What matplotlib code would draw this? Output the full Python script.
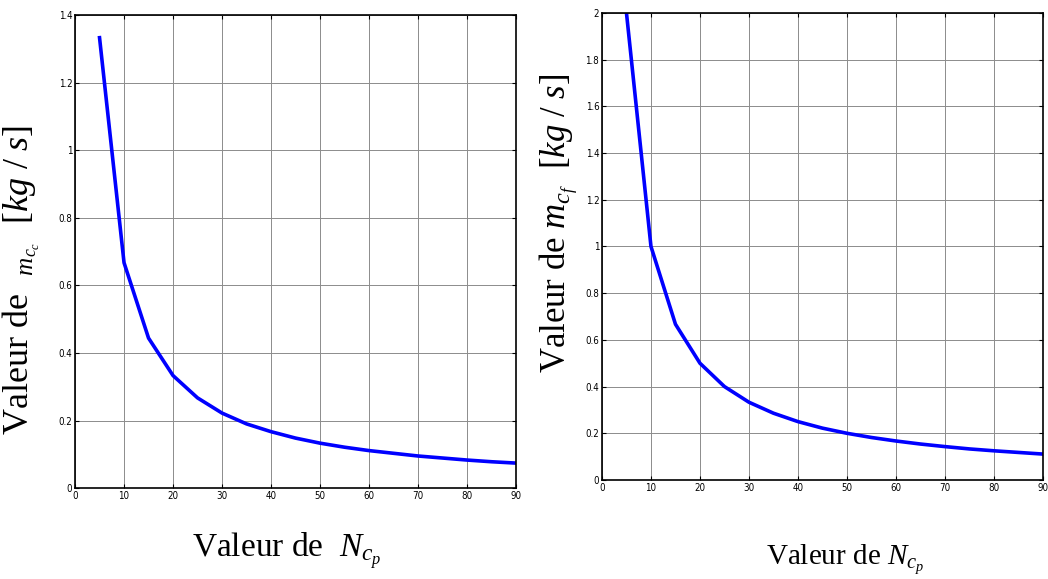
import matplotlib
matplotlib.use("Agg")
import matplotlib.pyplot as plt

# Data
n_cp = [5, 10, 15, 20, 25, 30, 35, 40, 45, 50, 55, 60, 65, 70, 75, 80, 85, 90]
m_cc = [1.333, 0.667, 0.444, 0.333, 0.267, 0.222, 0.190, 0.167, 0.148, 0.133,
        0.121, 0.111, 0.103, 0.095, 0.089, 0.083, 0.078, 0.074]
m_cf = [2.0, 1.0, 0.667, 0.5, 0.4, 0.333, 0.286, 0.25, 0.222, 0.2,
        0.182, 0.167, 0.154, 0.143, 0.133, 0.125, 0.118, 0.111]

x_ticks = [0, 10, 20, 30, 40, 50, 60, 70, 80, 90]
left_yticks = [0, 0.2, 0.4, 0.6, 0.8, 1.0, 1.2, 1.4]
left_ylabels = ["0", "0.2", "0.4", "0.6", "0.8", "1", "1.2", "1.4"]
right_yticks = [0, 0.2, 0.4, 0.6, 0.8, 1.0, 1.2, 1.4, 1.6, 1.8, 2.0]
right_ylabels = ["0", "0.2", "0.4", "0.6", "0.8", "1", "1.2", "1.4", "1.6", "1.8", "2"]

plt.rcParams["mathtext.fontset"] = "custom"
plt.rcParams["mathtext.rm"] = "Liberation Serif"
plt.rcParams["mathtext.it"] = "Liberation Serif:italic"

tick_font = {"family": ["Liberation Sans Narrow", "DejaVu Sans"], "size": 7,
             "stretch": "condensed"}
serif = ["Liberation Serif", "DejaVu Serif"]

fig = plt.figure(figsize=(10.48, 5.79), dpi=100)
ax1 = fig.add_axes([0.0716, 0.157, 0.4208, 0.817])
ax2 = fig.add_axes([0.5744, 0.171, 0.4208, 0.8066])


def style_axes(ax, yticks, ylabels, ymax):
    """Matlab-like look: grey grid, inward ticks on every side"""
    ax.set_xlim(0, 90)
    ax.set_ylim(0, ymax)
    ax.set_xticks(x_ticks)
    ax.set_xticklabels([str(t) for t in x_ticks], fontdict=tick_font)
    ax.set_yticks(yticks)
    ax.set_yticklabels(ylabels, fontdict=tick_font)
    ax.tick_params(direction="in", top=True, right=True, length=3, width=0.8, pad=2)
    ax.grid(True, color="#8c8c8c", linewidth=0.7)
    ax.set_axisbelow(True)
    for side in ax.spines.values():
        side.set_linewidth(1.2)


# Left plot
ax1.plot(n_cp, m_cc, color="#0000ff", linewidth=2.6)
style_axes(ax1, left_yticks, left_ylabels, 1.4)
ax1.set_xlabel(r"Valeur de  $N_{c_p}$", fontsize=24, family=serif)
ax1.xaxis.set_label_coords(0.48, -0.09)
ax1.set_ylabel(r"Valeur de  $_{m_{c_c}}$  $[kg\ /\ s]$", fontsize=26, family=serif)
ax1.yaxis.set_label_coords(-0.075, 0.44)

# Right plot
ax2.plot(n_cp, m_cf, color="#0000ff", linewidth=2.6)
style_axes(ax2, right_yticks, right_ylabels, 2.0)
ax2.set_xlabel(r"Valeur de $N_{c_p}$", fontsize=21, family=serif)
ax2.xaxis.set_label_coords(0.551, -0.135)
ax2.set_ylabel(r"Valeur de $m_{c_f}$  $[kg\ /\ s]$", fontsize=25, family=serif)
ax2.yaxis.set_label_coords(-0.05, 0.55)

fig.savefig("out.png", dpi=100)
